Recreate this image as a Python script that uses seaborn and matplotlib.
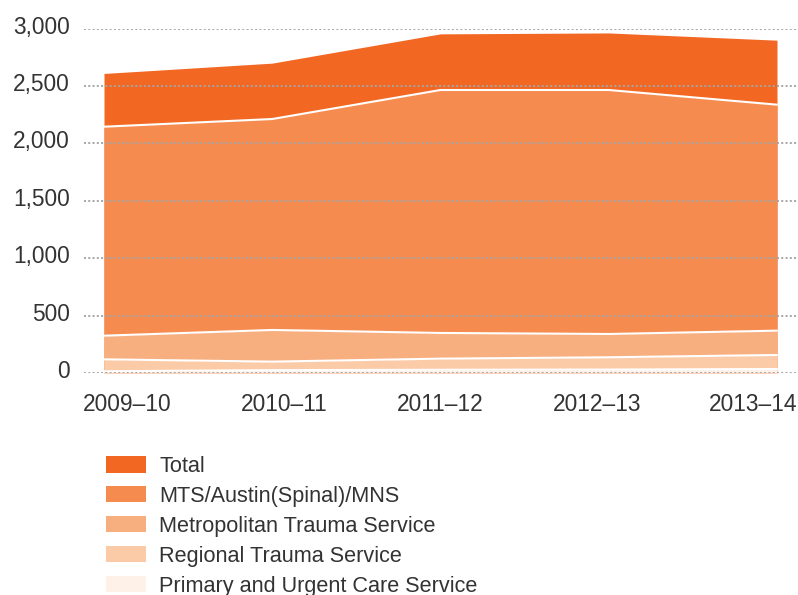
import numpy as np
import matplotlib
matplotlib.use('Agg')
import matplotlib.pyplot as plt
import seaborn as sns
from matplotlib.transforms import ScaledTranslation
from matplotlib.patches import Patch

years = ['2009–10', '2010–11', '2011–12', '2012–13', '2013–14']
total = [2610, 2700, 2955, 2963, 2900]
mts = [1821, 1838, 2117, 2126, 1969]
metro = [206, 276, 224, 203, 212]
regional = [104, 74, 97, 107, 122]
primary = [15, 25, 28, 30, 35]
y_ticks = [0, 500, 1000, 1500, 2000, 2500, 3000]
legend_labels = ['Total', 'MTS/Austin(Spinal)/MNS', 'Metropolitan Trauma Service',
                 'Regional Trauma Service', 'Primary and Urgent Care Service']

c_total = '#f26722'
c_mts = '#f68b4f'
c_metro = '#f8af80'
c_regional = '#fbcaa7'
c_primary = '#fef1e8'

sns.set_theme(style='white')
plt.rcParams['font.family'] = ['Liberation Sans', 'DejaVu Sans']

W, H = 798, 595
fig = plt.figure(figsize=(W / 100, H / 100), dpi=100)
ax = fig.add_axes([84 / W, 1 - 373 / H, 714 / W, (373 - 28.7) / H])

x = np.arange(len(years))
ax.fill_between(x, 0, total, color=c_total, lw=0, zorder=1)
ax.stackplot(x, primary, regional, metro, mts,
             colors=[c_primary, c_regional, c_metro, c_mts], lw=0, zorder=1)
tops = np.cumsum(np.array([primary, regional, metro, mts]), axis=0)
for top in tops:
    sns.lineplot(x=x, y=top, color='white', lw=1.5, ax=ax, zorder=2)

ax.set_xlim(-20 / 168.25, 4 + 21 / 168.25)
ax.set_ylim(0, 3000)
ax.set_yticks(y_ticks)
ax.set_yticklabels([f'{v:,}' for v in y_ticks])
ax.set_xticks(x)
ax.set_xticklabels(years)

for s in ax.spines.values():
    s.set_visible(False)
ax.set_axisbelow(False)
ax.yaxis.grid(True, color='#a5a5a5', linestyle=(0, (1, 1.2)), linewidth=1.4)
ax.xaxis.grid(False)
ax.tick_params(axis='both', length=0, colors='#333333', labelsize=16.4)
ax.tick_params(axis='y', pad=10)
ax.tick_params(axis='x', pad=14.5)

for lbl in ax.get_yticklabels():
    lbl.set_transform(lbl.get_transform() + ScaledTranslation(0, 4 / 100, fig.dpi_scale_trans))
x_offsets = [23, 12, 0, -12, -24]
for lbl, off in zip(ax.get_xticklabels(), x_offsets):
    lbl.set_transform(lbl.get_transform() + ScaledTranslation(off / 100, 0, fig.dpi_scale_trans))

handles = [Patch(facecolor=c, edgecolor='none') for c in
           [c_total, c_mts, c_metro, c_regional, c_primary]]
fig.legend(handles, legend_labels, loc='upper left',
           bbox_to_anchor=(105.7 / W, 1 - 456 / H), frameon=False,
           fontsize=15.6, handlelength=1.84, handleheight=0.77,
           handletextpad=0.63, labelspacing=0.41, borderpad=0, borderaxespad=0,
           labelcolor='#333333')

fig.savefig('out.png', dpi=100)
